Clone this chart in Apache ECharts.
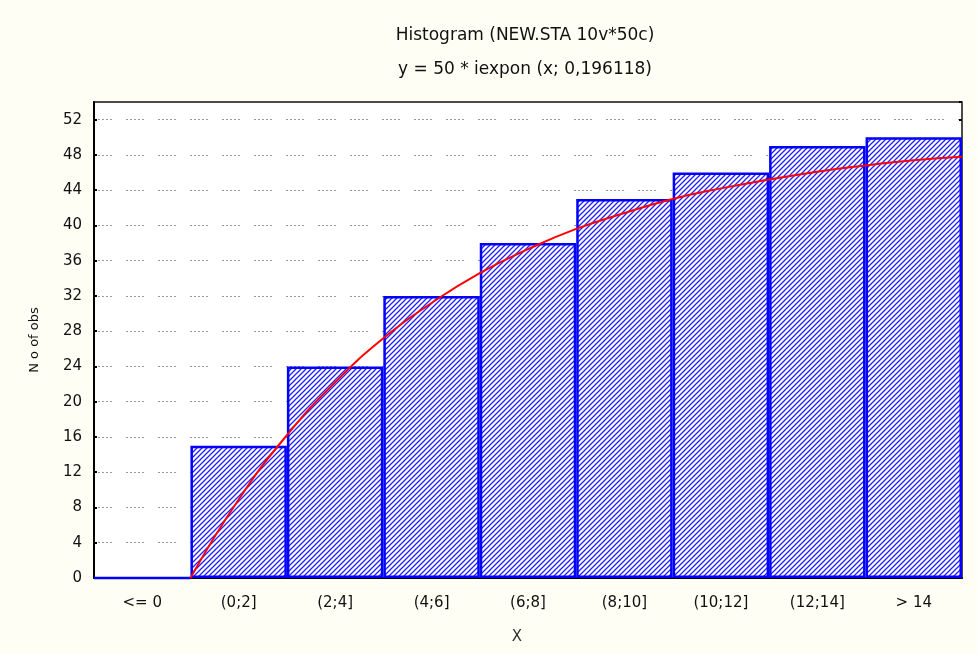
<!DOCTYPE html>
<html>
<head>
<meta charset="utf-8">
<script src="https://cdn.jsdelivr.net/npm/echarts@6/dist/echarts.min.js"></script>
<style>
  html, body { margin: 0; padding: 0; background: #fefef5; }
  #chart { width: 977px; height: 654px; }
</style>
</head>
<body>
<div id="chart"></div>
<script>
// Histogram bins and observed counts
const categories = ['<= 0', '(0;2]', '(2;4]', '(4;6]', '(6;8]', '(8;10]', '(10;12]', '(12;14]', '> 14'];
const counts = [0, 15, 24, 32, 38, 43, 46, 49, 50];

// Fitted cumulative exponential curve, sampled along x
const curveX = [0, 1, 2, 3, 4, 5, 6, 7, 8, 9, 10, 11, 12, 13, 14, 15, 16];
const curveY = [0, 8.9, 16.2, 22.2, 27.2, 31.2, 34.6, 37.3, 39.6, 41.4, 43.0, 44.2, 45.2, 46.1, 46.8, 47.4, 47.8];

const titleLines = ['Histogram (NEW.STA 10v*50c)', 'y = 50 * iexpon (x; 0,196118)'];

// Diagonal hatch fill for the bars
function makeHatch() {
  const p = 5;
  const c = document.createElement('canvas');
  c.width = p; c.height = p;
  const g = c.getContext('2d');
  g.fillStyle = '#ffffff';
  g.fillRect(0, 0, p, p);
  g.strokeStyle = '#2020ff';
  g.lineWidth = 1.3;
  g.beginPath();
  g.moveTo(-1, p + 1); g.lineTo(p + 1, -1);
  g.moveTo(-1, 1); g.lineTo(1, -1);
  g.moveTo(p - 1, p + 1); g.lineTo(p + 1, p - 1);
  g.stroke();
  return c;
}

const chart = echarts.init(document.getElementById('chart'), null, { renderer: 'canvas' });
const font = 'DejaVu Sans';
const gridDash = [2, 2, 2, 2, 2, 2, 2, 2, 2, 14];

chart.setOption({
  backgroundColor: '#fefef5',
  animation: false,
  title: [
    { text: titleLines[0], left: 520, top: 22, textAlign: 'center',
      textStyle: { fontFamily: font, fontSize: 17, fontWeight: 'normal', color: '#111' } },
    { text: titleLines[1], left: 520, top: 56, textAlign: 'center',
      textStyle: { fontFamily: font, fontSize: 17, fontWeight: 'normal', color: '#111' } }
  ],
  grid: {
    left: 94, right: 15, top: 102, bottom: 76,
    show: true, backgroundColor: '#ffffff', borderColor: '#111', borderWidth: 1.5
  },
  xAxis: [
    {
      type: 'category', data: categories, boundaryGap: true,
      axisLine: { lineStyle: { color: '#000', width: 2 } },
      axisTick: { show: false },
      axisLabel: { fontFamily: font, fontSize: 15, color: '#111', margin: 18 },
      name: 'X', nameLocation: 'middle', nameGap: 52,
      nameTextStyle: { fontFamily: font, fontSize: 15, color: '#333', padding: [0, 22, 0, 0] },
      splitLine: { show: false }
    },
    {
      type: 'value', min: -2, max: 16, show: false, position: 'bottom'
    }
  ],
  yAxis: [
    {
      type: 'value', min: 0, max: 54, interval: 4,
      axisLine: { show: true, onZero: false, lineStyle: { color: '#000', width: 2 } },
      axisTick: { show: true, inside: true, length: 3, lineStyle: { color: '#000', width: 2 } },
      axisLabel: { fontFamily: font, fontSize: 15, color: '#111', margin: 12, showMaxLabel: false },
      splitLine: { show: true, showMinLine: false, showMaxLine: false,
        lineStyle: { color: '#9a9a9a', width: 1, type: gridDash } },
      name: 'N o of obs', nameLocation: 'middle', nameGap: 53,
      nameTextStyle: { fontFamily: font, fontSize: 13, color: '#111' }
    },
    {
      type: 'value', min: 0, max: 54, interval: 4, position: 'right',
      axisLine: { show: false, onZero: false },
      axisTick: { show: true, inside: true, length: 3, lineStyle: { color: '#000', width: 2 } },
      axisLabel: { show: false },
      splitLine: { show: false }
    }
  ],
  series: [
    {
      type: 'bar', xAxisIndex: 0, yAxisIndex: 0, data: counts,
      barCategoryGap: '0%',
      itemStyle: {
        color: { image: makeHatch(), repeat: 'repeat' },
        borderColor: '#0000ff', borderWidth: 2.5
      },
      z: 2
    },
    {
      type: 'line', xAxisIndex: 1, yAxisIndex: 0,
      data: curveX.map((x, i) => [x, curveY[i]]),
      smooth: true, symbol: 'none',
      lineStyle: { color: '#ff0000', width: 2 },
      z: 3
    }
  ]
});
</script>
</body>
</html>
